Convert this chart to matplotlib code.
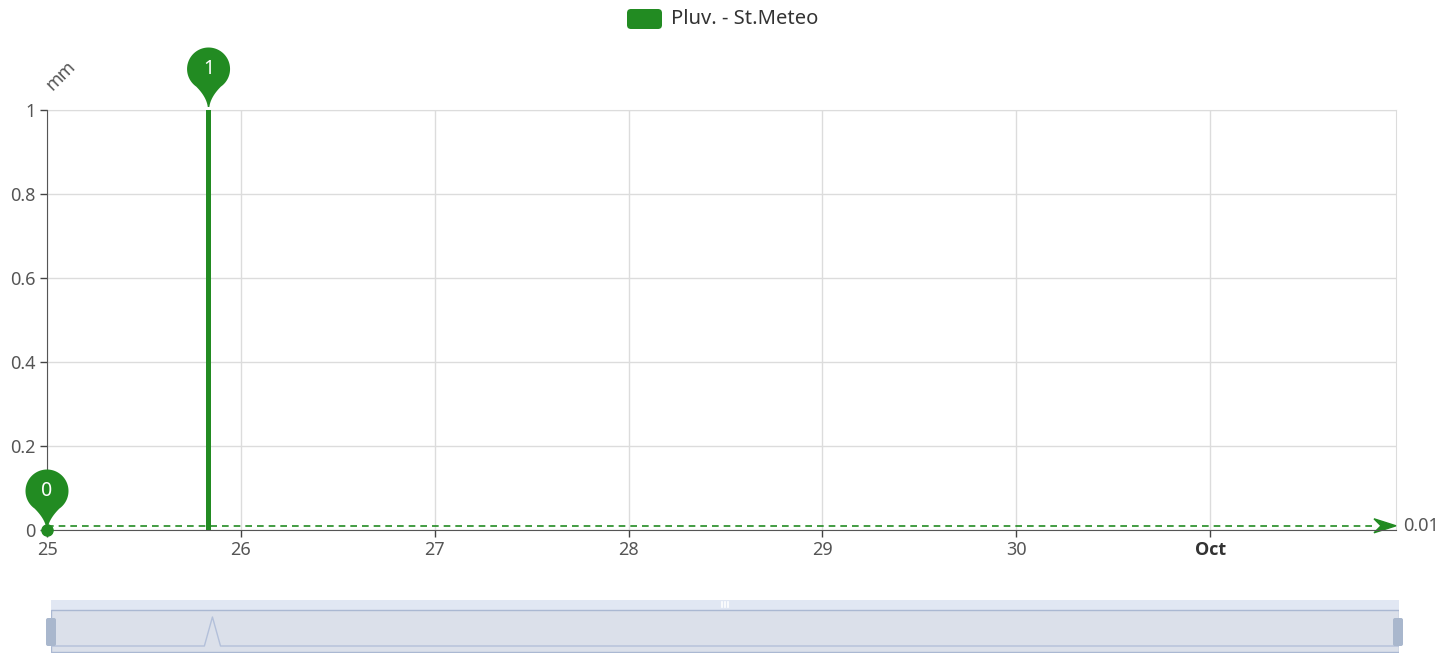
import numpy as np
import matplotlib
matplotlib.use("Agg")
import matplotlib.pyplot as plt
import matplotlib.transforms as mtransforms
from matplotlib.patches import Polygon, Rectangle, FancyBboxPatch

plt.rcParams['font.family'] = ['Noto Sans', 'DejaVu Sans']

# hourly rain data (hours since 25 Sep 00:00)
hours = [0, 19, 20, 21, 167]
rain_mm = [0, 0, 1, 0, 0]
mean_mm = 0.01
day_ticks = [0, 24, 48, 72, 96, 120, 144]
day_labels = ['25', '26', '27', '28', '29', '30', 'Oct']
y_ticks = [0, 0.2, 0.4, 0.6, 0.8, 1]
y_labels = ['0', '0.2', '0.4', '0.6', '0.8', '1']
series_name = 'Pluv. - St.Meteo'

green = '#228B22'
txt = '#555555'
W, H = 1456, 654

fig = plt.figure(figsize=(W / 100, H / 100), dpi=100)
ax = fig.add_axes([47 / W, (H - 530) / H, 1349 / W, 420 / H])

ax.bar(hours, rain_mm, width=0.6, color=green, zorder=3)
ax.plot(hours[0], rain_mm[0], 'o', color=green, ms=8, zorder=7, clip_on=False)

ax.set_xlim(0, 167)
ax.set_ylim(0, 1)
ax.set_xticks(day_ticks)
ax.set_xticklabels(day_labels)
ax.set_yticks(y_ticks)
ax.set_yticklabels(y_labels)
ax.tick_params(axis='both', colors='#444444', labelcolor=txt, labelsize=13,
               length=5, width=1)
ax.tick_params(axis='x', pad=3)
ax.tick_params(axis='y', pad=3)
# month label in bold
oct_lbl = ax.xaxis.get_major_ticks()[-1].label1
oct_lbl.set_fontfamily(['Open Sans', 'DejaVu Sans'])
oct_lbl.set_fontweight('bold')
oct_lbl.set_color('#333333')
ax.grid(True, color='#dcdcdc', lw=1, zorder=0)
for s in ['top', 'right']:
    ax.spines[s].set_color('#dcdcdc')
for s in ['left', 'bottom']:
    ax.spines[s].set_color('#555555')
    ax.spines[s].set_zorder(5)

ax.text(-0.003, 1.083, 'mm', rotation=45, transform=ax.transAxes, fontsize=13,
        color=txt, ha='left', va='center')

# mean line with arrow
ax.plot([0, 164], [mean_mm, mean_mm], ls=(0, (4, 3)), color=green, lw=1.2,
        zorder=4)
scale = fig.dpi / 100


def at_point(x, y):
    return mtransforms.Affine2D().scale(scale) + \
        mtransforms.ScaledTranslation(x, y, ax.transData)


ax.add_patch(Polygon([(0, 0), (-22, 7), (-15, 0), (-22, -7)], closed=True,
                     color=green, transform=at_point(167, mean_mm),
                     clip_on=False, zorder=5))
ax.text(7, 0, '%.2f' % mean_mm, transform=at_point(167, mean_mm),
        fontsize=13, color=txt, ha='left', va='center')


def pin(x, y, label, cy=40, tip=2):
    r = 21.5
    th = np.radians(np.linspace(-55, 235, 90))
    arc = np.column_stack([r * np.cos(th), cy + r * np.sin(th)])
    t = np.linspace(0, 1, 25)[:, None]
    p0 = arc[-1]; c = np.array([-2, cy - 28]); p1 = np.array([-0.8, tip])
    left = (1 - t) ** 2 * p0 + 2 * (1 - t) * t * c + t ** 2 * p1
    p0 = np.array([0.8, tip]); c = np.array([2, cy - 28]); p1 = arc[0]
    right = (1 - t) ** 2 * p0 + 2 * (1 - t) * t * c + t ** 2 * p1
    pts = np.vstack([arc, left, right])
    ax.add_patch(Polygon(pts, closed=True, color=green, clip_on=False,
                         transform=at_point(x, y), zorder=6, lw=0))
    ax.text(0, cy, label, transform=at_point(x, y), color='white',
            fontsize=14, ha='center', va='center', zorder=8)


imax = int(np.argmax(rain_mm))
imin = int(np.argmin(rain_mm))
pin(hours[imax], rain_mm[imax], '%g' % rain_mm[imax], cy=41, tip=3)
pin(hours[imin], rain_mm[imin], '%g' % rain_mm[imin], cy=39, tip=2)

# data zoom slider
dz = fig.add_axes([51 / W, 1 / H, 1348 / W, 53 / H])
dz.set_xlim(0, 167)
dz.set_ylim(-7 / 29, 46 / 29)
dz.axis('off')
dz.add_patch(Rectangle((0, 0), 1, 1, transform=dz.transAxes,
                       facecolor='#e1e7f3', edgecolor='none', zorder=0))
dz.add_patch(Rectangle((0, 0.02), 1, 42 / 53, transform=dz.transAxes,
                       facecolor='#dbe0ea', edgecolor='#aab8d2', lw=1,
                       zorder=1))
dz.plot(hours, rain_mm, color='#b3c0da', lw=1, zorder=2)

ov = fig.add_axes([0, 0, 1, 1], zorder=10)
ov.set_xlim(0, W)
ov.set_ylim(H, 0)
ov.axis('off')
for hx in (46, 1393):
    ov.add_patch(FancyBboxPatch((hx, 618), 10, 28,
                                boxstyle='round,pad=0,rounding_size=2',
                                facecolor='#a9b7cd', edgecolor='none'))
for gx in (722, 725, 728):
    ov.plot([gx, gx], [602, 607], color='white', lw=1.2)

# legend
ov.add_patch(FancyBboxPatch((627, 9), 35, 20,
                            boxstyle='round,pad=0,rounding_size=4',
                            facecolor=green, edgecolor='none'))
ov.text(671, 19, series_name, fontsize=14.5, color='#333333', ha='left',
        va='center')

fig.savefig('out.png', dpi=100)
